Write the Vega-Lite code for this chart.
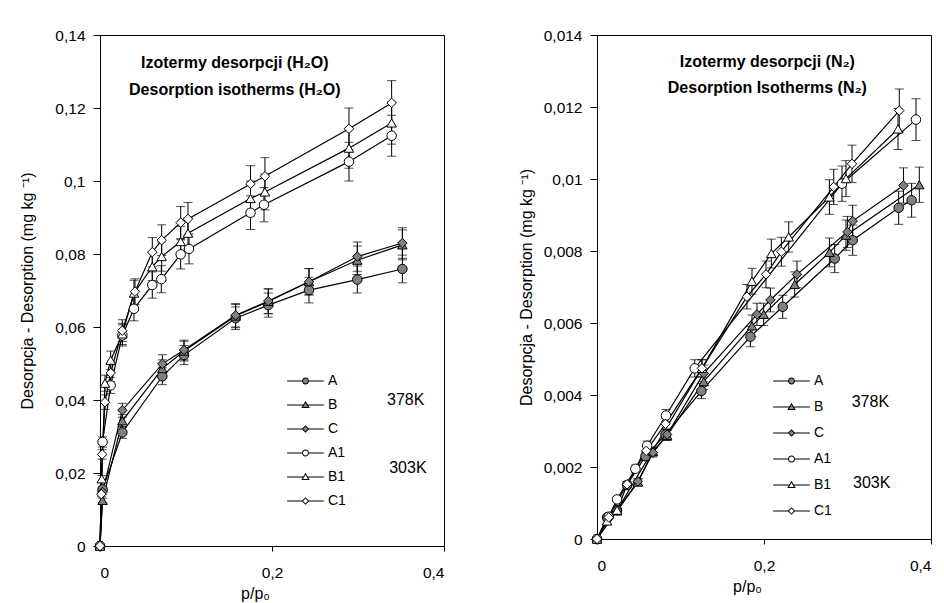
{
  "$schema": "https://vega.github.io/schema/vega-lite/v6.json",
  "background": "white",
  "padding": {"left": 19, "top": 27, "right": 5, "bottom": 5},
  "spacing": 153,
  "bounds": "flush",
  "config": {
    "font": "Liberation Sans",
    "view": {"stroke": "black", "strokeWidth": 1},
    "axis": {
      "grid": false,
      "domainColor": "black",
      "tickColor": "black",
      "labelColor": "black",
      "titleColor": "black",
      "labelFont": "Liberation Sans",
      "titleFont": "Liberation Sans",
      "labelFontSize": 15.5,
      "titleFontSize": 16,
      "titleFontWeight": "normal"
    },
    "legend": {"labelFont": "Liberation Sans", "labelColor": "black", "title": null, "orient": "none", "symbolSize": 1350, "labelOffset": 4, "labelFontSize": 14, "padding": 0, "rowPadding": 0, "symbolOffset": 0, "symbolStrokeWidth": 0}
  },
  "datasets": {
    "h2o": [
      {"s": "A", "x": 0, "y": 0, "e": 0},
      {"s": "A", "x": 0.003, "y": 0.0155, "e": 0.0008},
      {"s": "A", "x": 0.026, "y": 0.0311, "e": 0.0016},
      {"s": "A", "x": 0.0725, "y": 0.0465, "e": 0.0023},
      {"s": "A", "x": 0.0977, "y": 0.0523, "e": 0.0026},
      {"s": "A", "x": 0.1577, "y": 0.0624, "e": 0.0031},
      {"s": "A", "x": 0.1957, "y": 0.066, "e": 0.0033},
      {"s": "A", "x": 0.243, "y": 0.0701, "e": 0.0035},
      {"s": "A", "x": 0.2992, "y": 0.073, "e": 0.0037},
      {"s": "A", "x": 0.3516, "y": 0.0759, "e": 0.0038},
      {"s": "B", "x": 0, "y": 0, "e": 0},
      {"s": "B", "x": 0.003, "y": 0.0125, "e": 0.0006},
      {"s": "B", "x": 0.026, "y": 0.0343, "e": 0.0017},
      {"s": "B", "x": 0.0725, "y": 0.0486, "e": 0.0024},
      {"s": "B", "x": 0.0977, "y": 0.0534, "e": 0.0027},
      {"s": "B", "x": 0.1577, "y": 0.063, "e": 0.0032},
      {"s": "B", "x": 0.1957, "y": 0.067, "e": 0.0034},
      {"s": "B", "x": 0.243, "y": 0.0724, "e": 0.0036},
      {"s": "B", "x": 0.2992, "y": 0.0783, "e": 0.0039},
      {"s": "B", "x": 0.3516, "y": 0.0825, "e": 0.0041},
      {"s": "C", "x": 0, "y": 0, "e": 0},
      {"s": "C", "x": 0.003, "y": 0.0148, "e": 0.0007},
      {"s": "C", "x": 0.026, "y": 0.0372, "e": 0.0019},
      {"s": "C", "x": 0.0725, "y": 0.0499, "e": 0.0025},
      {"s": "C", "x": 0.0977, "y": 0.0537, "e": 0.0027},
      {"s": "C", "x": 0.1577, "y": 0.0632, "e": 0.0032},
      {"s": "C", "x": 0.1957, "y": 0.0671, "e": 0.0034},
      {"s": "C", "x": 0.243, "y": 0.0724, "e": 0.0036},
      {"s": "C", "x": 0.2992, "y": 0.0793, "e": 0.004},
      {"s": "C", "x": 0.3516, "y": 0.083, "e": 0.0042},
      {"s": "A1", "x": 0, "y": 0, "e": 0},
      {"s": "A1", "x": 0.003, "y": 0.0285, "e": 0.0014},
      {"s": "A1", "x": 0.0124, "y": 0.044, "e": 0.0022},
      {"s": "A1", "x": 0.026, "y": 0.0577, "e": 0.0029},
      {"s": "A1", "x": 0.0395, "y": 0.065, "e": 0.0033},
      {"s": "A1", "x": 0.0608, "y": 0.0715, "e": 0.0036},
      {"s": "A1", "x": 0.0713, "y": 0.0731, "e": 0.0037},
      {"s": "A1", "x": 0.0938, "y": 0.0799, "e": 0.004},
      {"s": "A1", "x": 0.1035, "y": 0.0814, "e": 0.0041},
      {"s": "A1", "x": 0.175, "y": 0.0913, "e": 0.0046},
      {"s": "A1", "x": 0.1907, "y": 0.0935, "e": 0.0047},
      {"s": "A1", "x": 0.2895, "y": 0.1053, "e": 0.0053},
      {"s": "A1", "x": 0.3391, "y": 0.1124, "e": 0.0056},
      {"s": "B1", "x": 0, "y": 0, "e": 0},
      {"s": "B1", "x": 0.002, "y": 0.0184, "e": 0.0009},
      {"s": "B1", "x": 0.0058, "y": 0.0446, "e": 0.0022},
      {"s": "B1", "x": 0.0124, "y": 0.0509, "e": 0.0025},
      {"s": "B1", "x": 0.026, "y": 0.0581, "e": 0.0029},
      {"s": "B1", "x": 0.0395, "y": 0.0693, "e": 0.0035},
      {"s": "B1", "x": 0.0608, "y": 0.0765, "e": 0.0038},
      {"s": "B1", "x": 0.0717, "y": 0.0793, "e": 0.004},
      {"s": "B1", "x": 0.0938, "y": 0.0834, "e": 0.0042},
      {"s": "B1", "x": 0.1023, "y": 0.0857, "e": 0.0043},
      {"s": "B1", "x": 0.175, "y": 0.0952, "e": 0.0048},
      {"s": "B1", "x": 0.1918, "y": 0.097, "e": 0.0049},
      {"s": "B1", "x": 0.2895, "y": 0.109, "e": 0.0055},
      {"s": "B1", "x": 0.3391, "y": 0.1159, "e": 0.0058},
      {"s": "C1", "x": 0, "y": 0, "e": 0},
      {"s": "C1", "x": 0.0015, "y": 0.0142, "e": 0.0007},
      {"s": "C1", "x": 0.0025, "y": 0.0251, "e": 0.0013},
      {"s": "C1", "x": 0.0058, "y": 0.0394, "e": 0.002},
      {"s": "C1", "x": 0.0124, "y": 0.0474, "e": 0.0024},
      {"s": "C1", "x": 0.0259, "y": 0.059, "e": 0.003},
      {"s": "C1", "x": 0.0407, "y": 0.0697, "e": 0.0035},
      {"s": "C1", "x": 0.0608, "y": 0.0805, "e": 0.004},
      {"s": "C1", "x": 0.0717, "y": 0.0838, "e": 0.0042},
      {"s": "C1", "x": 0.0938, "y": 0.0886, "e": 0.0044},
      {"s": "C1", "x": 0.1023, "y": 0.0896, "e": 0.0045},
      {"s": "C1", "x": 0.175, "y": 0.0992, "e": 0.005},
      {"s": "C1", "x": 0.1918, "y": 0.1013, "e": 0.0051},
      {"s": "C1", "x": 0.2895, "y": 0.1143, "e": 0.0057},
      {"s": "C1", "x": 0.3391, "y": 0.1214, "e": 0.0061}
    ],
    "n2": [
      {"s": "A", "x": 0, "y": 0, "e": 0},
      {"s": "A", "x": 0.012, "y": 0.0006, "e": 0.00003},
      {"s": "A", "x": 0.024, "y": 0.0008, "e": 0.00004},
      {"s": "A", "x": 0.036, "y": 0.0015, "e": 0.00008},
      {"s": "A", "x": 0.058, "y": 0.0023, "e": 0.00012},
      {"s": "A", "x": 0.082, "y": 0.0029, "e": 0.00015},
      {"s": "A", "x": 0.125, "y": 0.00411, "e": 0.00021},
      {"s": "A", "x": 0.1837, "y": 0.00562, "e": 0.00028},
      {"s": "A", "x": 0.2224, "y": 0.00645, "e": 0.00032},
      {"s": "A", "x": 0.2847, "y": 0.00779, "e": 0.00039},
      {"s": "A", "x": 0.3062, "y": 0.0083, "e": 0.00042},
      {"s": "A", "x": 0.3613, "y": 0.0092, "e": 0.00046},
      {"s": "A", "x": 0.3768, "y": 0.00941, "e": 0.00047},
      {"s": "B", "x": 0, "y": 0, "e": 0},
      {"s": "B", "x": 0.024, "y": 0.00078, "e": 0.00004},
      {"s": "B", "x": 0.049, "y": 0.00158, "e": 0.00008},
      {"s": "B", "x": 0.067, "y": 0.00243, "e": 0.00012},
      {"s": "B", "x": 0.084, "y": 0.00288, "e": 0.00014},
      {"s": "B", "x": 0.1278, "y": 0.00437, "e": 0.00022},
      {"s": "B", "x": 0.1856, "y": 0.00592, "e": 0.0003},
      {"s": "B", "x": 0.1996, "y": 0.00624, "e": 0.00031},
      {"s": "B", "x": 0.2368, "y": 0.00707, "e": 0.00035},
      {"s": "B", "x": 0.2783, "y": 0.00796, "e": 0.0004},
      {"s": "B", "x": 0.2982, "y": 0.00844, "e": 0.00042},
      {"s": "B", "x": 0.386, "y": 0.00984, "e": 0.00049},
      {"s": "C", "x": 0, "y": 0, "e": 0},
      {"s": "C", "x": 0.024, "y": 0.0008, "e": 0.00004},
      {"s": "C", "x": 0.049, "y": 0.0016, "e": 0.00008},
      {"s": "C", "x": 0.067, "y": 0.0024, "e": 0.00012},
      {"s": "C", "x": 0.084, "y": 0.0029, "e": 0.00015},
      {"s": "C", "x": 0.1278, "y": 0.0046, "e": 0.00023},
      {"s": "C", "x": 0.1916, "y": 0.00624, "e": 0.00031},
      {"s": "C", "x": 0.2077, "y": 0.00664, "e": 0.00033},
      {"s": "C", "x": 0.2395, "y": 0.00735, "e": 0.00037},
      {"s": "C", "x": 0.2999, "y": 0.00853, "e": 0.00043},
      {"s": "C", "x": 0.3062, "y": 0.00883, "e": 0.00044},
      {"s": "C", "x": 0.367, "y": 0.00982, "e": 0.00049},
      {"s": "A1", "x": 0, "y": 0, "e": 0},
      {"s": "A1", "x": 0.014, "y": 0.00062, "e": 0.00003},
      {"s": "A1", "x": 0.024, "y": 0.0011, "e": 0.00006},
      {"s": "A1", "x": 0.046, "y": 0.00195, "e": 0.0001},
      {"s": "A1", "x": 0.06, "y": 0.00259, "e": 0.00013},
      {"s": "A1", "x": 0.0826, "y": 0.00343, "e": 0.00017},
      {"s": "A1", "x": 0.117, "y": 0.00474, "e": 0.00024},
      {"s": "A1", "x": 0.2934, "y": 0.00987, "e": 0.00049},
      {"s": "A1", "x": 0.382, "y": 0.01165, "e": 0.00058},
      {"s": "B1", "x": 0, "y": 0, "e": 0},
      {"s": "B1", "x": 0.012, "y": 0.0005, "e": 0.00003},
      {"s": "B1", "x": 0.024, "y": 0.0008, "e": 0.00004},
      {"s": "B1", "x": 0.1257, "y": 0.00474, "e": 0.00024},
      {"s": "B1", "x": 0.1856, "y": 0.00716, "e": 0.00036},
      {"s": "B1", "x": 0.2088, "y": 0.00793, "e": 0.0004},
      {"s": "B1", "x": 0.2296, "y": 0.00839, "e": 0.00042},
      {"s": "B1", "x": 0.2783, "y": 0.0095, "e": 0.00048},
      {"s": "B1", "x": 0.2982, "y": 0.01001, "e": 0.0005},
      {"s": "B1", "x": 0.3605, "y": 0.01139, "e": 0.00057},
      {"s": "C1", "x": 0, "y": 0, "e": 0},
      {"s": "C1", "x": 0.014, "y": 0.0006, "e": 0.00003},
      {"s": "C1", "x": 0.036, "y": 0.00152, "e": 0.00008},
      {"s": "C1", "x": 0.059, "y": 0.00245, "e": 0.00012},
      {"s": "C1", "x": 0.082, "y": 0.0032, "e": 0.00016},
      {"s": "C1", "x": 0.1257, "y": 0.00474, "e": 0.00024},
      {"s": "C1", "x": 0.1796, "y": 0.00673, "e": 0.00034},
      {"s": "C1", "x": 0.2024, "y": 0.00735, "e": 0.00037},
      {"s": "C1", "x": 0.2208, "y": 0.00798, "e": 0.0004},
      {"s": "C1", "x": 0.2835, "y": 0.00978, "e": 0.00049},
      {"s": "C1", "x": 0.3054, "y": 0.01042, "e": 0.00052},
      {"s": "C1", "x": 0.362, "y": 0.0119, "e": 0.0006}
    ]
  },
  "hconcat": [
    {
      "width": 344,
      "height": 511,
      "layer": [
        {
          "data": {"name": "h2o"},
          "encoding": {
            "x": {"field": "x", "type": "quantitative", "scale": {"domain": [0, 0.4], "nice": false, "zero": false},
              "axis": {"values": [0, 0.2, 0.4], "title": "p/p₀", "labelExpr": "replace(format(datum.value, '~g'), '.', ',')", "tickSize": 5, "labelPadding": 14, "titlePadding": 5, "titleX": 155}},
            "y": {"field": "y", "type": "quantitative", "scale": {"domain": [0, 0.14], "nice": false},
              "axis": {"values": [0, 0.02, 0.04, 0.06, 0.08, 0.1, 0.12, 0.14], "title": "Desorpcja - Desorption (mg kg ⁻¹)", "labelExpr": "replace(format(datum.value, '~g'), '.', ',')", "tickSize": 7, "labelPadding": 8, "titlePadding": 19}}
          },
          "layer": [
            {"mark": {"type": "errorbar", "color": "black", "thickness": 1, "ticks": {"size": 9, "color": "black", "thickness": 1}}, "encoding": {"yError": {"field": "e"}}},
            {"mark": {"type": "line", "color": "black", "strokeWidth": 1.2}, "encoding": {"detail": {"field": "s"}}},
            {"mark": {"type": "point", "filled": true, "stroke": "black", "strokeWidth": 1, "size": 90, "opacity": 1},
              "encoding": {
                "shape": {"field": "s", "type": "nominal", "scale": {"domain": ["A", "B", "C", "A1", "B1", "C1"], "range": ["circle", "triangle-up", "diamond", "circle", "triangle-up", "diamond"]}, "legend": null},
                "fill": {"field": "s", "type": "nominal", "scale": {"domain": ["A", "B", "C", "A1", "B1", "C1"], "range": ["#808080", "#808080", "#808080", "white", "white", "white"]}, "legend": null}
              }},
            {"transform": [{"filter": "false"}],
              "mark": {"type": "point", "filled": true, "color": "black", "opacity": 1},
              "encoding": {
                "shape": {"field": "s", "type": "nominal", "scale": {"domain": ["A", "B", "C", "A1", "B1", "C1"], "range": [
                  "M-1,-0.03H1V0.03H-1ZM-0.19,0A0.19,0.19,0,1,1,0.19,0A0.19,0.19,0,1,1,-0.19,0Z",
                  "M-1,-0.03H1V0.03H-1ZM0,-0.23L0.23,0.17L-0.23,0.17Z",
                  "M-1,-0.03H1V0.03H-1ZM0,-0.21L0.21,0L0,0.21L-0.21,0Z",
                  "M-1,-0.03H1V0.03H-1ZM-0.19,0A0.19,0.19,0,1,1,0.19,0A0.19,0.19,0,1,1,-0.19,0Z",
                  "M-1,-0.03H1V0.03H-1ZM0,-0.23L0.23,0.17L-0.23,0.17Z",
                  "M-1,-0.03H1V0.03H-1ZM0,-0.21L0.21,0L0,0.21L-0.21,0Z"]},
                  "legend": {"legendX": 187, "legendY": 334, "clipHeight": 24, "symbolFillColor": "black"}}
              }},
            {"transform": [{"filter": "false"}],
              "mark": {"type": "point", "filled": true, "opacity": 1},
              "encoding": {
                "shape": {"field": "s", "type": "nominal", "scale": {"domain": ["A", "B", "C", "A1", "B1", "C1"], "range": [
                  "M-0.136,0A0.136,0.136,0,1,1,0.136,0A0.136,0.136,0,1,1,-0.136,0Z",
                  "M0,-0.12L0.135,0.115L-0.135,0.115Z",
                  "M0,-0.133L0.133,0L0,0.133L-0.133,0Z",
                  "M-0.136,0A0.136,0.136,0,1,1,0.136,0A0.136,0.136,0,1,1,-0.136,0Z",
                  "M0,-0.12L0.135,0.115L-0.135,0.115Z",
                  "M0,-0.133L0.133,0L0,0.133L-0.133,0Z"]},
                  "legend": {"legendX": 187, "legendY": 334, "clipHeight": 24, "labelOpacity": 0}},
                "fill": {"field": "s", "type": "nominal", "scale": {"domain": ["A", "B", "C", "A1", "B1", "C1"], "range": ["#808080", "#808080", "#808080", "white", "white", "white"]},
                  "legend": {"legendX": 187, "legendY": 334, "clipHeight": 24, "labelOpacity": 0}}
              }}
          ],
          "resolve": {"scale": {"shape": "independent", "fill": "independent"}}
        },
        {
          "data": {"values": [{}]},
          "encoding": {
            "x": {"type": "quantitative", "scale": {"domain": [0, 0.4], "nice": false, "zero": false},
              "axis": {"values": [0, 0.2, 0.4], "title": "p/p₀", "labelExpr": "replace(format(datum.value, '~g'), '.', ',')", "tickSize": 5, "labelPadding": 14, "titlePadding": 5, "titleX": 155}},
            "y": {"type": "quantitative", "scale": {"domain": [0, 0.14], "nice": false},
              "axis": {"values": [0, 0.02, 0.04, 0.06, 0.08, 0.1, 0.12, 0.14], "title": "Desorpcja - Desorption (mg kg ⁻¹)", "labelExpr": "replace(format(datum.value, '~g'), '.', ',')", "tickSize": 7, "labelPadding": 8, "titlePadding": 19}}
          },
          "layer": [
            {"mark": {"type": "text", "fontWeight": "bold", "fontSize": 16, "align": "center", "baseline": "middle", "color": "black"},
              "encoding": {"x": {"datum": 0.1568}, "y": {"datum": 0.1323}, "text": {"value": "Izotermy desorpcji (H₂O)"}}},
            {"mark": {"type": "text", "fontWeight": "bold", "fontSize": 16, "align": "center", "baseline": "middle", "color": "black"},
              "encoding": {"x": {"datum": 0.1568}, "y": {"datum": 0.1249}, "text": {"value": "Desorption isotherms (H₂O)"}}},
            {"mark": {"type": "text", "fontSize": 16, "align": "center", "baseline": "middle", "color": "black"},
              "encoding": {"x": {"datum": 0.3555}, "y": {"datum": 0.0399}, "text": {"value": "378K"}}},
            {"mark": {"type": "text", "fontSize": 16, "align": "center", "baseline": "middle", "color": "black"},
              "encoding": {"x": {"datum": 0.358}, "y": {"datum": 0.0215}, "text": {"value": "303K"}}}
          ]
        }
      ]
    },
    {
      "width": 334,
      "height": 504,
      "layer": [
        {
          "data": {"name": "n2"},
          "encoding": {
            "x": {"field": "x", "type": "quantitative", "scale": {"domain": [0, 0.4], "nice": false, "zero": false},
              "axis": {"values": [0, 0.2, 0.4], "title": "p/p₀", "labelExpr": "replace(format(datum.value, '~g'), '.', ',')", "tickSize": 5, "labelPadding": 14, "titlePadding": 5, "titleX": 150}},
            "y": {"field": "y", "type": "quantitative", "scale": {"domain": [0, 0.014], "nice": false},
              "axis": {"values": [0, 0.002, 0.004, 0.006, 0.008, 0.01, 0.012, 0.014], "title": "Desorpcja - Desorption (mg kg ⁻¹)", "labelExpr": "replace(format(datum.value, '~g'), '.', ',')", "tickSize": 7, "labelPadding": 8, "titlePadding": 9}}
          },
          "layer": [
            {"mark": {"type": "errorbar", "color": "black", "thickness": 1, "ticks": {"size": 9, "color": "black", "thickness": 1}}, "encoding": {"yError": {"field": "e"}}},
            {"mark": {"type": "line", "color": "black", "strokeWidth": 1.2}, "encoding": {"detail": {"field": "s"}}},
            {"mark": {"type": "point", "filled": true, "stroke": "black", "strokeWidth": 1, "size": 90, "opacity": 1},
              "encoding": {
                "shape": {"field": "s", "type": "nominal", "scale": {"domain": ["A", "B", "C", "A1", "B1", "C1"], "range": ["circle", "triangle-up", "diamond", "circle", "triangle-up", "diamond"]}, "legend": null},
                "fill": {"field": "s", "type": "nominal", "scale": {"domain": ["A", "B", "C", "A1", "B1", "C1"], "range": ["#808080", "#808080", "#808080", "white", "white", "white"]}, "legend": null}
              }},
            {"transform": [{"filter": "false"}],
              "mark": {"type": "point", "filled": true, "color": "black", "opacity": 1},
              "encoding": {
                "shape": {"field": "s", "type": "nominal", "scale": {"domain": ["A", "B", "C", "A1", "B1", "C1"], "range": [
                  "M-1,-0.03H1V0.03H-1ZM-0.19,0A0.19,0.19,0,1,1,0.19,0A0.19,0.19,0,1,1,-0.19,0Z",
                  "M-1,-0.03H1V0.03H-1ZM0,-0.23L0.23,0.17L-0.23,0.17Z",
                  "M-1,-0.03H1V0.03H-1ZM0,-0.21L0.21,0L0,0.21L-0.21,0Z",
                  "M-1,-0.03H1V0.03H-1ZM-0.19,0A0.19,0.19,0,1,1,0.19,0A0.19,0.19,0,1,1,-0.19,0Z",
                  "M-1,-0.03H1V0.03H-1ZM0,-0.23L0.23,0.17L-0.23,0.17Z",
                  "M-1,-0.03H1V0.03H-1ZM0,-0.21L0.21,0L0,0.21L-0.21,0Z"]},
                  "legend": {"legendX": 176, "legendY": 333, "clipHeight": 26, "symbolFillColor": "black"}}
              }},
            {"transform": [{"filter": "false"}],
              "mark": {"type": "point", "filled": true, "opacity": 1},
              "encoding": {
                "shape": {"field": "s", "type": "nominal", "scale": {"domain": ["A", "B", "C", "A1", "B1", "C1"], "range": [
                  "M-0.136,0A0.136,0.136,0,1,1,0.136,0A0.136,0.136,0,1,1,-0.136,0Z",
                  "M0,-0.12L0.135,0.115L-0.135,0.115Z",
                  "M0,-0.133L0.133,0L0,0.133L-0.133,0Z",
                  "M-0.136,0A0.136,0.136,0,1,1,0.136,0A0.136,0.136,0,1,1,-0.136,0Z",
                  "M0,-0.12L0.135,0.115L-0.135,0.115Z",
                  "M0,-0.133L0.133,0L0,0.133L-0.133,0Z"]},
                  "legend": {"legendX": 176, "legendY": 333, "clipHeight": 26, "labelOpacity": 0}},
                "fill": {"field": "s", "type": "nominal", "scale": {"domain": ["A", "B", "C", "A1", "B1", "C1"], "range": ["#808080", "#808080", "#808080", "white", "white", "white"]},
                  "legend": {"legendX": 176, "legendY": 333, "clipHeight": 26, "labelOpacity": 0}}
              }}
          ],
          "resolve": {"scale": {"shape": "independent", "fill": "independent"}}
        },
        {
          "data": {"values": [{}]},
          "encoding": {
            "x": {"type": "quantitative", "scale": {"domain": [0, 0.4], "nice": false, "zero": false},
              "axis": {"values": [0, 0.2, 0.4], "title": "p/p₀", "labelExpr": "replace(format(datum.value, '~g'), '.', ',')", "tickSize": 5, "labelPadding": 14, "titlePadding": 5, "titleX": 150}},
            "y": {"type": "quantitative", "scale": {"domain": [0, 0.014], "nice": false},
              "axis": {"values": [0, 0.002, 0.004, 0.006, 0.008, 0.01, 0.012, 0.014], "title": "Desorpcja - Desorption (mg kg ⁻¹)", "labelExpr": "replace(format(datum.value, '~g'), '.', ',')", "tickSize": 7, "labelPadding": 8, "titlePadding": 9}}
          },
          "layer": [
            {"mark": {"type": "text", "fontWeight": "bold", "fontSize": 16, "align": "center", "baseline": "middle", "color": "black"},
              "encoding": {"x": {"datum": 0.204}, "y": {"datum": 0.013255}, "text": {"value": "Izotermy desorpcji (N₂)"}}},
            {"mark": {"type": "text", "fontWeight": "bold", "fontSize": 16, "align": "center", "baseline": "middle", "color": "black"},
              "encoding": {"x": {"datum": 0.204}, "y": {"datum": 0.01254}, "text": {"value": "Desorption Isotherms (N₂)"}}},
            {"mark": {"type": "text", "fontSize": 16, "align": "center", "baseline": "middle", "color": "black"},
              "encoding": {"x": {"datum": 0.3274}, "y": {"datum": 0.003817}, "text": {"value": "378K"}}},
            {"mark": {"type": "text", "fontSize": 16, "align": "center", "baseline": "middle", "color": "black"},
              "encoding": {"x": {"datum": 0.329}, "y": {"datum": 0.00155}, "text": {"value": "303K"}}}
          ]
        }
      ]
    }
  ]
}
